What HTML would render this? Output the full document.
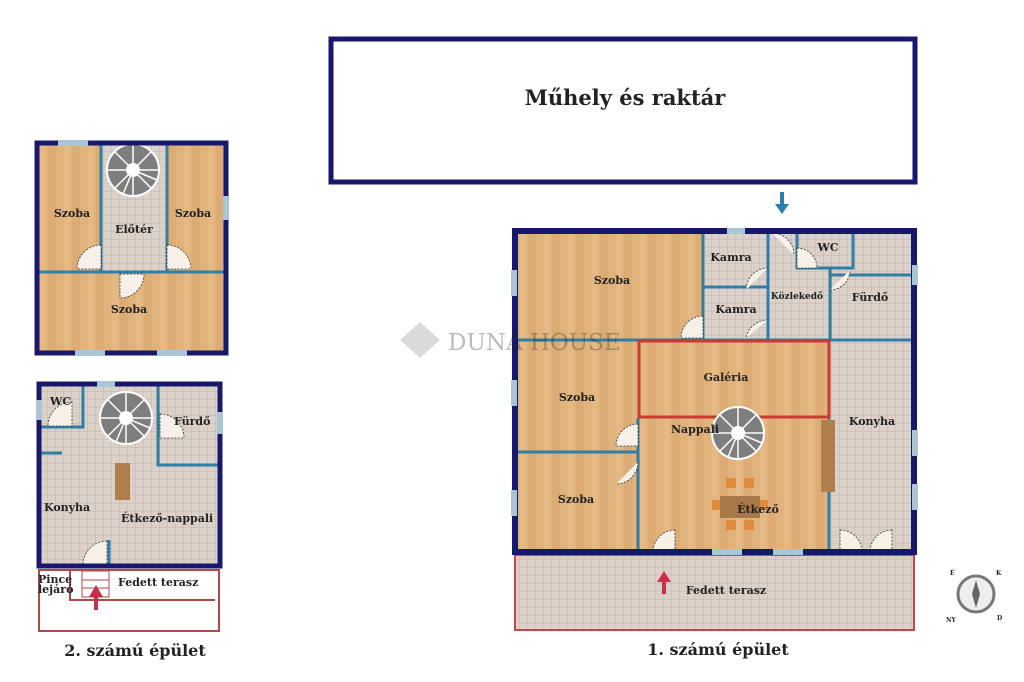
<!DOCTYPE html>
<html><head><meta charset="utf-8"><style>
html,body{margin:0;padding:0;background:#fff;width:1024px;height:682px;overflow:hidden}
svg text{font-family:"DejaVu Serif","Liberation Serif",serif;font-weight:bold;fill:#222}
</style></head><body>
<svg width="1024" height="682" viewBox="0 0 1024 682" xmlns="http://www.w3.org/2000/svg">
<defs>
<pattern id="wood" width="24" height="60" patternUnits="userSpaceOnUse">
<rect width="24" height="60" fill="#e0b27c"/>
<rect x="0" width="8" height="60" fill="#dcac74"/>
<rect x="16" width="6" height="60" fill="#e4b984"/>
</pattern>
<pattern id="tile" width="8" height="8" patternUnits="userSpaceOnUse">
<rect width="8" height="8" fill="#dbd1c9"/>
<path d="M8 0V8H0" fill="none" stroke="#bcaea6" stroke-width="0.8"/>
</pattern>
<g id="stair">
<circle r="26" fill="#7e7e7e" stroke="#fff" stroke-width="2"/>
<g stroke="#fff" stroke-width="1.5">
<line x1="0" y1="0" x2="26" y2="0"/><line x1="0" y1="0" x2="18" y2="18"/><line x1="0" y1="0" x2="0" y2="26"/>
<line x1="0" y1="0" x2="-18" y2="18"/><line x1="0" y1="0" x2="-26" y2="0"/><line x1="0" y1="0" x2="-18" y2="-18"/>
<line x1="0" y1="0" x2="0" y2="-26"/><line x1="0" y1="0" x2="18" y2="-18"/><line x1="0" y1="0" x2="24" y2="10"/><line x1="0" y1="0" x2="-10" y2="24"/></g>
<circle r="7" fill="#fff"/>
</g>
</defs>

<rect x="331" y="39" width="584" height="143" fill="#fff" stroke="#17176b" stroke-width="5"/>
<text x="625" y="105" font-size="21" text-anchor="middle">Műhely és raktár</text>
<path d="M782 192V208" stroke="#2a7fb0" stroke-width="4"/><path d="M775 204L782 214L789 204Z" fill="#2a7fb0"/>

<rect x="515" y="555" width="399" height="75" fill="url(#tile)" stroke="#c04848" stroke-width="2"/>
<rect x="515" y="231" width="399" height="321" fill="url(#tile)"/>
<rect x="515" y="231" width="188" height="109" fill="url(#wood)"/>
<rect x="515" y="340" width="123" height="212" fill="url(#wood)"/>
<rect x="638" y="340" width="191" height="212" fill="url(#wood)"/>
<g stroke="#2e7ea6" stroke-width="3" fill="none">
<path d="M703 231V340M768 231V340M703 287H768M515 340H914M830 268V340M797 231V268H853V231M830 275H914M515 452H638M638 418V552M829 418V552"/>
</g>
<rect x="639" y="341" width="190" height="76" fill="none" stroke="#c83a32" stroke-width="3"/>
<rect x="821" y="420" width="14" height="72" fill="#b07e4c"/>
<use href="#stair" x="738" y="433"/>
<rect x="720" y="496" width="40" height="22" fill="#a87848"/>
<g fill="#e08a3c"><rect x="726" y="478" width="10" height="10"/><rect x="744" y="478" width="10" height="10"/><rect x="726" y="520" width="10" height="10"/><rect x="744" y="520" width="10" height="10"/><rect x="712" y="500" width="8" height="10"/><rect x="760" y="500" width="8" height="10"/></g>
<g fill="#f6f0e8" stroke="#333" stroke-width="0.8" stroke-dasharray="2,1.5">
<path d="M703 316A22 22 0 0 0 681 338H703Z"/>
<path d="M768 268A22 22 0 0 0 746 290"/>
<path d="M768 320A22 22 0 0 0 746 338"/>
<path d="M638 424A22 22 0 0 0 616 446H638Z"/>
<path d="M638 462A22 22 0 0 1 616 484"/>
<path d="M675 530A22 22 0 0 0 653 552H675Z"/>
<path d="M840 530A22 22 0 0 1 862 552H840Z"/>
<path d="M892 530A22 22 0 0 0 870 552H892Z"/>
<path d="M797 248A20 20 0 0 1 817 268H797Z"/>
<path d="M830 290A20 20 0 0 0 850 270"/>
<path d="M772 233A22 22 0 0 1 794 255"/>
</g>
<rect x="515" y="231" width="399" height="321" fill="none" stroke="#17176b" stroke-width="6"/>
<g fill="#a9c6d6"><rect x="727" y="228" width="18" height="6"/><rect x="511" y="270" width="6" height="26"/><rect x="511" y="380" width="6" height="26"/><rect x="511" y="490" width="6" height="26"/><rect x="912" y="430" width="6" height="26"/><rect x="912" y="484" width="6" height="26"/><rect x="712" y="549" width="30" height="6"/><rect x="773" y="549" width="30" height="6"/><rect x="912" y="265" width="6" height="20"/></g>
<g font-size="11" text-anchor="middle">
<text x="612" y="284">Szoba</text><text x="731" y="261">Kamra</text><text x="736" y="313">Kamra</text>
<text x="797" y="299" font-size="9">Közlekedő</text><text x="828" y="251">WC</text><text x="870" y="301">Fürdő</text>
<text x="726" y="381">Galéria</text><text x="577" y="401">Szoba</text><text x="872" y="425">Konyha</text>
<text x="695" y="433">Nappali</text><text x="758" y="513">Étkező</text><text x="576" y="503">Szoba</text>
<text x="726" y="594">Fedett terasz</text></g>
<path d="M664 594V580" stroke="#c8304a" stroke-width="4"/><path d="M657 582L664 571L671 582Z" fill="#c8304a"/>
<text x="718" y="655" font-size="16" text-anchor="middle">1. számú épület</text>

<rect x="37" y="143" width="189" height="210" fill="url(#wood)"/>
<rect x="101" y="143" width="66" height="129" fill="url(#tile)"/>
<path d="M101 143V272M167 143V272M37 272H226" stroke="#2e7ea6" stroke-width="3" fill="none"/>
<use href="#stair" x="133" y="170"/>
<g fill="#f6f0e8" stroke="#333" stroke-width="0.8" stroke-dasharray="2,1.5">
<path d="M101 245A24 24 0 0 0 77 269H101Z"/><path d="M167 245A24 24 0 0 1 191 269H167Z"/><path d="M120 274V298A24 24 0 0 0 144 274Z"/>
</g>
<rect x="37" y="143" width="189" height="210" fill="none" stroke="#17176b" stroke-width="5"/>
<g fill="#a9c6d6"><rect x="58" y="140" width="30" height="6"/><rect x="223" y="196" width="6" height="24"/><rect x="75" y="350" width="30" height="6"/><rect x="157" y="350" width="30" height="6"/></g>
<g font-size="11" text-anchor="middle"><text x="72" y="217">Szoba</text><text x="134" y="233">Előtér</text><text x="193" y="217">Szoba</text><text x="129" y="313">Szoba</text></g>

<rect x="39" y="570" width="180" height="61" fill="#fff" stroke="#b04848" stroke-width="2"/>
<path d="M70 570V600H215" stroke="#b04848" stroke-width="2" fill="none"/>
<rect x="82" y="571" width="27" height="26" fill="#fff" stroke="#b04848" stroke-width="1"/>
<path d="M82 580H109M82 588H109" stroke="#b04848" stroke-width="1"/>
<rect x="39" y="384" width="181" height="182" fill="url(#tile)"/>
<path d="M83 384V427H41M158 384V465H220M41 453H62M109 540V566" stroke="#2e7ea6" stroke-width="3" fill="none"/>
<use href="#stair" x="126" y="418"/>
<rect x="115" y="463" width="15" height="37" fill="#b07e4c"/>
<g fill="#f6f0e8" stroke="#333" stroke-width="0.8" stroke-dasharray="2,1.5">
<path d="M72 402A24 24 0 0 0 48 426H72Z"/><path d="M160 414A24 24 0 0 1 184 438H160Z"/><path d="M107 541A24 24 0 0 0 83 565H107Z"/>
</g>
<rect x="39" y="384" width="181" height="182" fill="none" stroke="#17176b" stroke-width="5"/>
<g fill="#a9c6d6"><rect x="97" y="381" width="18" height="6"/><rect x="36" y="400" width="6" height="20"/><rect x="217" y="412" width="6" height="22"/></g>
<path d="M96 610V594" stroke="#c8304a" stroke-width="4"/><path d="M89 597L96 585L103 597Z" fill="#c8304a"/>
<g font-size="11"><text x="50" y="405">WC</text><text x="174" y="425">Fürdő</text><text x="44" y="511">Konyha</text><text x="121" y="522">Étkező-nappali</text>
<text x="118" y="586">Fedett terasz</text><text x="38" y="583">Pince</text><text x="38" y="593">lejáró</text></g>
<text x="135" y="656" font-size="16" text-anchor="middle">2. számú épület</text>

<g opacity="0.3"><path d="M420 322L440 340L420 358L400 340Z" fill="#888"/><text x="448" y="350" font-size="23" fill="#888" style="font-weight:normal">DUNA HOUSE</text></g>

<circle cx="976" cy="594" r="18" fill="#eee" stroke="#777" stroke-width="3"/>
<path d="M976 580L980 594L976 608L972 594Z" fill="#666"/>
<g font-size="6" fill="#444"><text x="950" y="575">É</text><text x="996" y="575">K</text><text x="946" y="622">NY</text><text x="997" y="620">D</text></g>
</svg>
</body></html>
